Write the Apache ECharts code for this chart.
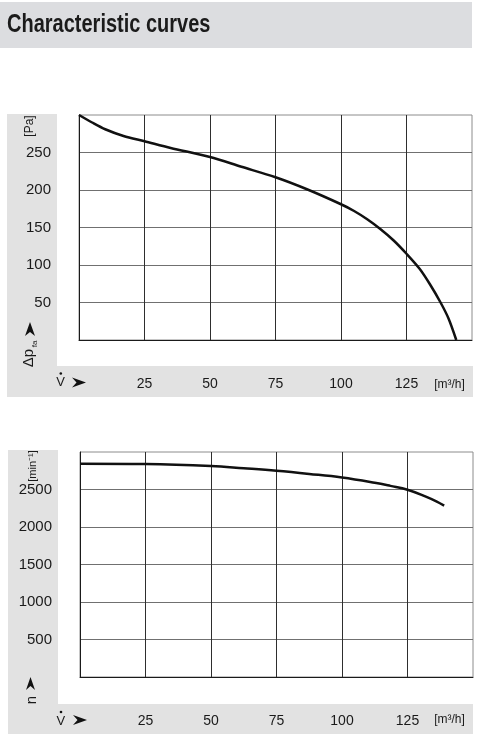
<!DOCTYPE html>
<html><head><meta charset="utf-8">
<script src="https://cdn.jsdelivr.net/npm/echarts@6/dist/echarts.min.js"></script>
<style>html,body{margin:0;padding:0;background:#fff}#c{width:480px;height:742px}</style>
</head><body><div id="c"></div>
<script>
// Data
const flowTicks = [25, 50, 75, 100, 125];
const pressureTicks = [50, 100, 150, 200, 250];
const speedTicks = [500, 1000, 1500, 2000, 2500];
const pressureFlow = [0, 5, 10, 17, 25, 35, 50, 62, 75, 87, 100, 105, 110, 115, 120, 125, 130, 134, 138, 141, 144];
const pressureValues = [300, 290, 281, 272, 265, 256, 244, 231, 217, 201, 181, 172, 161, 148, 133, 115, 95, 74, 50, 29, 0];
const speedFlow = [0, 25, 50, 62.5, 75, 87.5, 100, 112.5, 118.5, 125, 132, 136, 139];
const speedValues = [2845, 2840, 2813, 2783, 2750, 2708, 2660, 2590, 2548, 2497, 2405, 2342, 2285];

const FF = '"Liberation Sans", Arial, Helvetica, sans-serif';
const ink = '#1a1a1a';
const panel = '#e2e2e2';

function xAxisCfg(gi) {
  return {
    gridIndex: gi, type: 'value', min: 0, max: 150, interval: 25,
    axisLine: { show: true, onZero: false, lineStyle: { color: ink, width: 1 } },
    axisTick: { show: false },
    splitLine: { show: true, showMinLine: false, showMaxLine: false, lineStyle: { color: '#2e2e2e', width: 1 } },
    axisLabel: { margin: 37, fontSize: 14, color: ink, fontFamily: FF,
      formatter: v => flowTicks.includes(v) ? String(v) : '' }
  };
}
function yAxisCfg(gi, max, interval, ticks) {
  return {
    gridIndex: gi, type: 'value', min: 0, max: max, interval: interval,
    axisLine: { show: true, onZero: false, lineStyle: { color: ink, width: 1 } },
    axisTick: { show: false },
    splitLine: { show: true, showMinLine: false, showMaxLine: false, lineStyle: { color: '#707070', width: 1 } },
    axisLabel: { margin: 28, fontSize: 15, color: ink, fontFamily: FF,
      formatter: v => ticks.includes(v) ? String(v) : '' }
  };
}
function rtext(x, y, text, size, extra) {
  return Object.assign({ type: 'text', x: x, y: y, rotation: Math.PI / 2, z: 10,
    style: { text: text, font: size + 'px ' + FF, fill: ink, align: 'center', verticalAlign: 'middle',
      textAlign: 'center', textVerticalAlign: 'middle' } }, extra || {});
}
function htext(x, y, text, size, align) {
  return { type: 'text', x: x, y: y, z: 10,
    style: { text: text, font: size + 'px ' + FF, fill: ink, align: align || 'center', verticalAlign: 'middle',
      textAlign: align || 'center', textVerticalAlign: 'middle' } };
}
function poly(pts) { return { type: 'polygon', z: 10, shape: { points: pts }, style: { fill: '#111' } }; }
function rect(x, y, w, h, fill) { return { type: 'rect', z: -10, shape: { x: x, y: y, width: w, height: h }, style: { fill: fill } }; }

const chart = echarts.init(document.getElementById('c'), null, { renderer: 'canvas' });
chart.setOption({
  animation: false,
  backgroundColor: '#ffffff',
  grid: [
    { left: 79, top: 115, width: 393, height: 225, show: true, borderColor: '#8c8c8c', borderWidth: 1, backgroundColor: 'transparent' },
    { left: 80, top: 452, width: 393, height: 225, show: true, borderColor: '#8c8c8c', borderWidth: 1, backgroundColor: 'transparent' }
  ],
  xAxis: [xAxisCfg(0), xAxisCfg(1)],
  yAxis: [yAxisCfg(0, 300, 50, pressureTicks), yAxisCfg(1, 3000, 500, speedTicks)],
  series: [
    { type: 'line', xAxisIndex: 0, yAxisIndex: 0, data: pressureFlow.map((x, i) => [x, pressureValues[i]]),
      smooth: 0.3, showSymbol: false, symbol: 'none', silent: true,
      lineStyle: { color: '#111', width: 2.5 } },
    { type: 'line', xAxisIndex: 1, yAxisIndex: 1, data: speedFlow.map((x, i) => [x, speedValues[i]]),
      smooth: 0.4, showSymbol: false, symbol: 'none', silent: true,
      lineStyle: { color: '#111', width: 2.5 } }
  ],
  graphic: [
    rect(0, 2, 472, 46, '#dcdde0'),
    { type: 'text', x: 7, y: 25, scaleX: 0.8, z: 10,
      style: { text: 'Characteristic curves', font: 'bold 25px ' + FF, fill: '#1b1b1b',
        align: 'left', verticalAlign: 'middle', textAlign: 'left', textVerticalAlign: 'middle' } },
    // top panel
    rect(7, 114, 50, 283, panel),
    rect(7, 366, 466, 31, panel),
    rtext(30, 126, '[Pa]', 12),
    poly([[30, 322], [25, 336], [30, 332], [35, 336]]),
    rtext(29, 358, 'Δp', 15),
    rtext(35, 344, 'fa', 8),
    htext(60.5, 382.5, 'V', 13),
    { type: 'circle', z: 10, shape: { cx: 60.8, cy: 373.5, r: 1.3 }, style: { fill: '#111' } },
    poly([[86, 382.5], [72, 377.5], [76.5, 382.5], [72, 387.5]]),
    htext(449.5, 385, '[m³/h]', 12),
    // bottom panel
    rect(8, 450, 50, 284, panel),
    rect(8, 704, 465, 30, panel),
    rtext(33, 466, '[min⁻¹]', 11),
    poly([[30.5, 677], [26, 690], [30.5, 686], [35, 690]]),
    rtext(32, 700, 'n', 15),
    htext(60.8, 721, 'V', 13),
    { type: 'circle', z: 10, shape: { cx: 61, cy: 712, r: 1.3 }, style: { fill: '#111' } },
    poly([[87, 720], [73, 715], [77.5, 720], [73, 725]]),
    htext(449.5, 720, '[m³/h]', 12)
  ]
});
</script>
</body></html>
